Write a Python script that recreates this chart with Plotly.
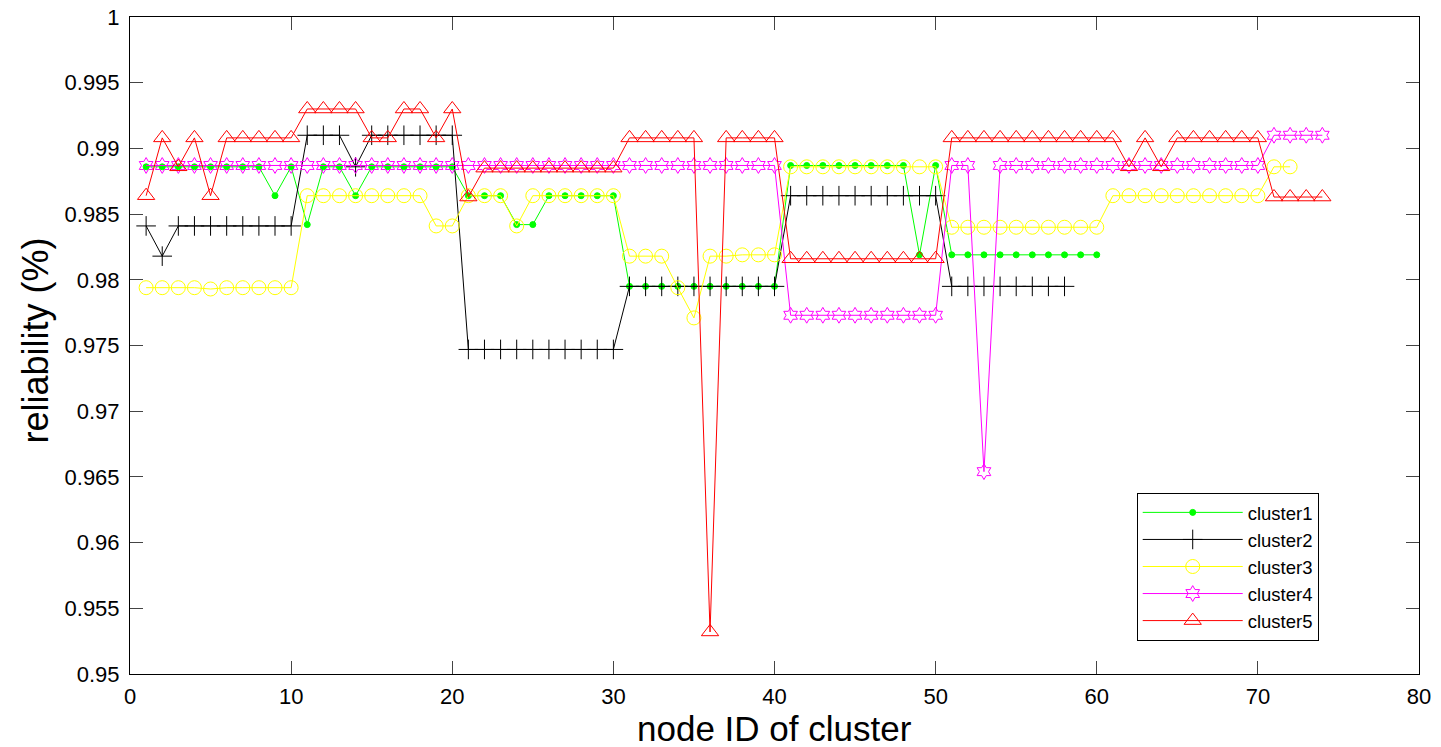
import plotly.graph_objects as go

# ---------------- data ----------------
c1 = ([0.9886] * 8 + [0.9864, 0.9886, 0.9842, 0.9886, 0.9886, 0.9864] + [0.9886] * 6
      + [0.9864, 0.9864, 0.9864, 0.9842, 0.9842] + [0.9864] * 5 + [0.9795] * 10
      + [0.9887] * 8 + [0.9819, 0.9887] + [0.9819] * 10)
c2 = ([0.9841, 0.9818] + [0.9841] * 8 + [0.9910] * 3 + [0.9886] + [0.9910] * 6
      + [0.9747] * 10 + [0.9795] * 10 + [0.9864] * 10 + [0.9795] * 8)
c3 = ([0.9794] * 4 + [0.9793] + [0.9794] * 5 + [0.9864] * 8 + [0.9841] * 2
      + [0.9864] * 3 + [0.9841] + [0.9864] * 6 + [0.9818] * 3 + [0.9794, 0.9771, 0.9818, 0.9818]
      + [0.9819] * 3 + [0.9886] * 10 + [0.9840] * 10 + [0.9864] * 10 + [0.9886] * 2)
c4 = ([0.9887] * 40 + [0.9773] * 10 + [0.9887, 0.9887, 0.9654] + [0.9887] * 17 + [0.9910] * 4)
c5 = ([0.9864, 0.9908, 0.9886, 0.9908, 0.9864] + [0.9908] * 5 + [0.9930] * 4 + [0.9908] * 2
      + [0.9930] * 2 + [0.9908, 0.9930, 0.9863] + [0.9885] * 9 + [0.9908] * 5 + [0.9532]
      + [0.9908] * 4 + [0.9816] * 10 + [0.9908] * 11 + [0.9886, 0.9908, 0.9886] + [0.9908] * 6
      + [0.9863] * 4)

names = ["cluster1", "cluster2", "cluster3", "cluster4", "cluster5"]
series = [c1, c2, c3, c4, c5]

y_ticks = [0.95, 0.955, 0.96, 0.965, 0.97, 0.975, 0.98, 0.985, 0.99, 0.995, 1.0]
y_ticklabels = ["0.95", "0.955", "0.96", "0.965", "0.97", "0.975", "0.98", "0.985", "0.99", "0.995", "1"]
x_ticks = [0, 10, 20, 30, 40, 50, 60, 70, 80]
x_title = "node ID of cluster"
y_title = "reliability (%)"

# ---------------- styles ----------------
styles = [
    dict(color="#00ff00", symbol="circle", size=6),
    dict(color="#000000", symbol="cross-thin-open", size=14),
    dict(color="#ffff00", symbol="circle-open", size=14),
    dict(color="#ff00ff", symbol="hexagram-open", size=12),
    dict(color="#ff0000", symbol="triangle-up-open", size=15),
]

fig = go.Figure()
for name, ys, st in zip(names, series, styles):
    xs = list(range(1, len(ys) + 1))
    marker = dict(symbol=st["symbol"], size=st["size"], color=st["color"],
                  line=dict(color=st["color"], width=1))
    fig.add_trace(go.Scatter(x=xs, y=ys, mode="lines+markers", name=name,
                             line=dict(color=st["color"], width=1), marker=marker))

font = "Liberation Sans, Arial, sans-serif"
fig.update_layout(
    width=1441, height=747,
    paper_bgcolor="white", plot_bgcolor="white",
    margin=dict(l=130, r=22, t=17, b=73),
    font=dict(family=font, color="black"),
    showlegend=True,
    legend=dict(x=0.781, y=0.2757, xanchor="left", yanchor="top",
                bgcolor="white", bordercolor="black", borderwidth=1,
                font=dict(size=18.5, family=font), itemwidth=100,
                tracegroupgap=0),
    xaxis=dict(range=[0, 80], tickvals=x_ticks, ticks="inside", ticklen=13,
               showline=True, linecolor="black", linewidth=1, mirror="ticks",
               showgrid=False, zeroline=False, tickfont=dict(size=22), automargin=False,
               ticklabelstandoff=3, ticklabeloverflow="allow"),
    yaxis=dict(range=[0.95, 1.0], tickvals=y_ticks, ticktext=y_ticklabels,
               ticks="inside", ticklen=13, automargin=False, ticklabelstandoff=5,
               ticklabeloverflow="allow",
               showline=True, linecolor="black", linewidth=1, mirror="ticks",
               showgrid=False, zeroline=False, tickfont=dict(size=22)),
    annotations=[
        dict(text=x_title, xref="paper", yref="paper", x=0.5, y=0,
             xanchor="center", yanchor="middle", yshift=-54, showarrow=False,
             font=dict(size=35, family=font, color="black")),
        dict(text=y_title, xref="paper", yref="paper", x=0, y=0.5, textangle=-90,
             xanchor="center", yanchor="middle", xshift=-95, yshift=5, showarrow=False,
             font=dict(size=36, family=font, color="black")),
    ],
)

# remove the browser's default 8px page margin so the 1441x747 figure fills the window
fig.write_html("out.html", config={"displayModeBar": False},
               post_script="document.body.style.margin='0px';")
